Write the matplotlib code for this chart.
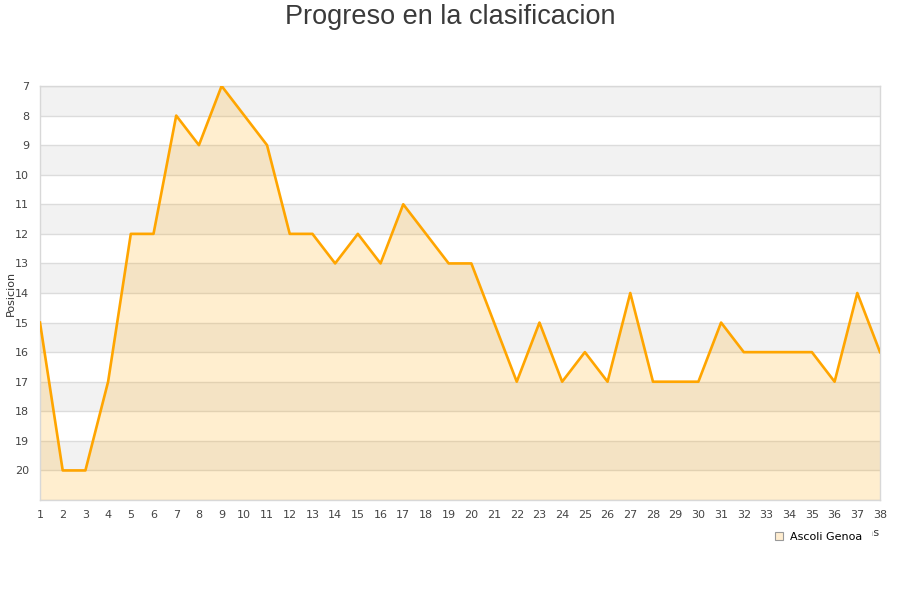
import matplotlib
matplotlib.use("Agg")
import matplotlib.pyplot as plt
from matplotlib.lines import Line2D

jornadas = list(range(1, 39))
posiciones = [15, 20, 20, 17, 12, 12, 8, 9, 7, 8, 9, 12, 12, 13, 12, 13, 11, 12, 13, 13,
              15, 17, 15, 17, 16, 17, 14, 17, 17, 17, 15, 16, 16, 16, 16, 17, 14, 16]
yticks = list(range(7, 21))
title = "Progreso en la clasificacion"
team = "Ascoli Genoa"

plt.rcParams['font.family'] = ['DejaVu Sans']
fig = plt.figure(figsize=(9, 6), dpi=100)
ax = fig.add_axes([40/900, 1-500/600, 840/900, 414/600])

ymin, ymax = 7, 21
ax.set_xlim(1, 38)
ax.set_ylim(ymax, ymin)

# alternating bands
for k in range(ymin, ymax):
    if (k - ymin) % 2 == 0:
        ax.axhspan(k, k+1, color='#f2f2f2', zorder=0, lw=0)
for k in range(ymin, ymax + 1):
    ax.axhline(k, color='#dcdcdc', lw=1, zorder=1)

ax.fill_between(jornadas, posiciones, ymax, color='#FFA500', alpha=0.19, lw=0, zorder=2)
ax.plot(jornadas, posiciones, color='#FFA500', lw=1.9, zorder=3)

ax.set_yticks(yticks)
ax.set_xticks(jornadas)
ax.tick_params(axis='both', length=0, labelsize=8, labelcolor='#444444')
ax.tick_params(axis='y', pad=8)
ax.tick_params(axis='x', pad=7)
for s in ax.spines.values():
    s.set_color('#d8d8d8')
    s.set_linewidth(1)

fig.text(11/900, 1-293/600, "Posicion", rotation=90, ha='center', va='center',
         fontsize=8, color='#333333')
fig.text(880/900, 1-533/600, "Jornadas", ha='right', va='center', fontsize=8,
         color='#333333', zorder=1)

fig.suptitle(title, x=0.5, y=1-17/600, va='center', fontsize=19.5,
             family=['Liberation Sans', 'DejaVu Sans'], color='#3a3a3a')

handle = Line2D([], [], marker='s', linestyle='none', markersize=6,
                markerfacecolor='#FFEDD0', markeredgecolor='#999999', markeredgewidth=0.8)
leg = fig.legend([handle], [team], loc='center', bbox_to_anchor=(818/900, 1-537/600),
                 fontsize=8, frameon=True, handletextpad=0.5, borderpad=0.8,
                 handlelength=1.0, framealpha=1.0, fancybox=False)
leg.get_frame().set_facecolor('white')
leg.get_frame().set_edgecolor('white')
leg.set_zorder(10)

fig.savefig("out.png", dpi=100)
